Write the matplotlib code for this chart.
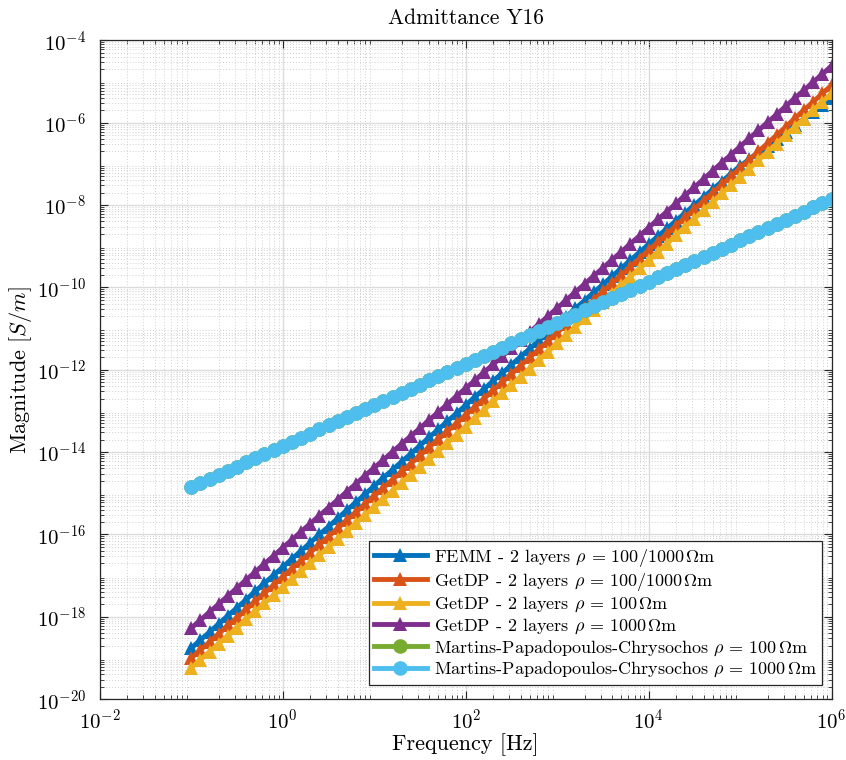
import matplotlib
matplotlib.use("Agg")
import matplotlib.pyplot as plt
import numpy as np

# frequency sweep: 10 points per decade, 0.1 Hz .. 1 MHz
freq = np.logspace(-1, 6, 71)

# |Y16| in log10(S/m)
femm_2layers = [
    -18.76, -18.56, -18.37, -18.17, -17.97, -17.78, -17.58, -17.38, -17.18, -16.99,
    -16.79, -16.59, -16.40, -16.20, -16.00, -15.81, -15.61, -15.41, -15.22, -15.02,
    -14.82, -14.62, -14.43, -14.23, -14.04, -13.84, -13.64, -13.45, -13.25, -13.06,
    -12.86, -12.66, -12.47, -12.27, -12.08, -11.88, -11.68, -11.49, -11.29, -11.10,
    -10.90, -10.71, -10.51, -10.32, -10.12, -9.93, -9.73, -9.54, -9.34, -9.15,
    -8.95, -8.76, -8.57, -8.38, -8.19, -8.00, -7.81, -7.62, -7.43, -7.24,
    -7.05, -6.89, -6.72, -6.56, -6.39, -6.23, -6.06, -5.90, -5.73, -5.57, -5.40,
]
getdp_2layers = [
    -19.00, -18.80, -18.61, -18.41, -18.21, -18.02, -17.82, -17.62, -17.42, -17.23,
    -17.03, -16.83, -16.64, -16.44, -16.24, -16.05, -15.85, -15.65, -15.46, -15.26,
    -15.06, -14.86, -14.67, -14.47, -14.28, -14.08, -13.88, -13.69, -13.49, -13.30,
    -13.10, -12.90, -12.70, -12.50, -12.30, -12.10, -11.90, -11.70, -11.50, -11.30,
    -11.10, -10.90, -10.70, -10.50, -10.30, -10.10, -9.90, -9.70, -9.50, -9.30,
    -9.10, -8.90, -8.70, -8.50, -8.30, -8.10, -7.90, -7.70, -7.50, -7.30,
    -7.10, -6.90, -6.70, -6.50, -6.30, -6.10, -5.89, -5.69, -5.49, -5.29, -5.09,
]
getdp_100 = [
    -19.24, -19.04, -18.85, -18.65, -18.46, -18.26, -18.06, -17.87, -17.67, -17.48,
    -17.28, -17.09, -16.89, -16.70, -16.50, -16.31, -16.11, -15.92, -15.72, -15.53,
    -15.33, -15.14, -14.94, -14.75, -14.55, -14.36, -14.16, -13.97, -13.77, -13.58,
    -13.38, -13.18, -12.98, -12.77, -12.57, -12.37, -12.17, -11.97, -11.76, -11.56,
    -11.36, -11.16, -10.96, -10.75, -10.55, -10.35, -10.15, -9.95, -9.74, -9.54,
    -9.34, -9.14, -8.94, -8.73, -8.53, -8.33, -8.13, -7.93, -7.72, -7.52,
    -7.32, -7.12, -6.91, -6.71, -6.51, -6.31, -6.10, -5.90, -5.70, -5.49, -5.29,
]
getdp_1000 = [
    -18.27, -18.08, -17.88, -17.69, -17.49, -17.30, -17.10, -16.91, -16.71, -16.52,
    -16.32, -16.13, -15.93, -15.74, -15.54, -15.35, -15.16, -14.96, -14.77, -14.57,
    -14.38, -14.19, -13.99, -13.80, -13.61, -13.42, -13.22, -13.03, -12.84, -12.64,
    -12.45, -12.26, -12.06, -11.87, -11.67, -11.48, -11.28, -11.09, -10.89, -10.70,
    -10.50, -10.31, -10.11, -9.92, -9.72, -9.53, -9.33, -9.14, -8.94, -8.75,
    -8.55, -8.35, -8.16, -7.96, -7.76, -7.57, -7.37, -7.17, -6.97, -6.78,
    -6.58, -6.38, -6.19, -5.99, -5.80, -5.60, -5.40, -5.21, -5.01, -4.82, -4.62,
]
mpc_1000 = [
    -14.85, -14.75, -14.65, -14.55, -14.45, -14.35, -14.25, -14.15, -14.05, -13.95,
    -13.85, -13.75, -13.65, -13.55, -13.45, -13.35, -13.25, -13.15, -13.05, -12.95,
    -12.86, -12.76, -12.66, -12.56, -12.46, -12.36, -12.26, -12.16, -12.06, -11.96,
    -11.86, -11.76, -11.66, -11.56, -11.46, -11.36, -11.26, -11.16, -11.06, -10.96,
    -10.86, -10.76, -10.66, -10.56, -10.46, -10.36, -10.26, -10.16, -10.06, -9.96,
    -9.86, -9.76, -9.66, -9.56, -9.46, -9.36, -9.26, -9.16, -9.06, -8.96,
    -8.86, -8.76, -8.66, -8.56, -8.46, -8.36, -8.26, -8.16, -8.06, -7.96, -7.86,
]
# the 100 Ohm.m analytic curve lies under the 1000 Ohm.m one
mpc_100 = list(mpc_1000)

labels = [
    r"FEMM - 2 layers $\rho\,=\,100/1000\,\Omega\mathrm{m}$",
    r"GetDP - 2 layers $\rho\,=\,100/1000\,\Omega\mathrm{m}$",
    r"GetDP - 2 layers $\rho\,=\,100\,\Omega\mathrm{m}$",
    r"GetDP - 2 layers $\rho\,=\,1000\,\Omega\mathrm{m}$",
    r"Martins-Papadopoulos-Chrysochos $\rho\,=\,100\,\Omega\mathrm{m}$",
    r"Martins-Papadopoulos-Chrysochos $\rho\,=\,1000\,\Omega\mathrm{m}$",
]
series = [femm_2layers, getdp_2layers, getdp_100, getdp_1000, mpc_100, mpc_1000]
markers = ["^", "^", "^", "^", "o", "o"]
colors = ["#0072BD", "#D95319", "#EDB120", "#7E2F8E", "#77AC30", "#4DBEEE"]

plt.rcParams["font.family"] = "serif"
plt.rcParams["font.serif"] = ["cmr10"]
plt.rcParams["mathtext.fontset"] = "cm"
plt.rcParams["axes.formatter.use_mathtext"] = True

fig = plt.figure(figsize=(8.46, 7.6), dpi=100)
ax = fig.add_axes([0.118, 0.080, 0.865, 0.867])

for y, lab, m, c in zip(series, labels, markers, colors):
    ax.loglog(freq, 10.0 ** np.array(y), marker=m, color=c, lw=3.5, ms=10.5,
              markeredgewidth=0, label=lab)

ax.set_xlim(1e-2, 1e6)
ax.set_ylim(1e-20, 1e-4)
ax.set_xticks([1e-2, 1e0, 1e2, 1e4, 1e6])
ax.set_yticks([10.0 ** k for k in range(-20, -3, 2)])
ax.xaxis.set_minor_locator(matplotlib.ticker.LogLocator(base=10, subs=np.arange(2, 10), numticks=20))
ax.yaxis.set_minor_locator(matplotlib.ticker.LogLocator(base=10, subs=np.arange(2, 10), numticks=40))
ax.xaxis.set_minor_formatter(matplotlib.ticker.NullFormatter())
ax.yaxis.set_minor_formatter(matplotlib.ticker.NullFormatter())

ax.grid(True, which="major", color="#dcdcdc", lw=1.0, ls="-")
ax.grid(True, which="minor", color="#cfcfcf", lw=0.7, ls=(0, (1, 2)))
ax.set_axisbelow(True)
ax.tick_params(which="both", direction="in", top=True, right=True, labelsize=15, color="#262626")
ax.tick_params(which="major", length=6)
ax.tick_params(which="minor", length=3)
ax.tick_params(axis="x", which="major", pad=7)
ax.tick_params(axis="y", which="major", pad=10)
for sp in ax.spines.values():
    sp.set_color("#262626")
    sp.set_linewidth(0.9)

ax.set_title("Admittance Y16", fontsize=15.5, pad=12)
ax.set_xlabel("Frequency [Hz]", fontsize=16, labelpad=0)
ax.set_ylabel(r"Magnitude $[S/m]$", fontsize=16, labelpad=2)

leg = ax.legend(loc="lower right", bbox_to_anchor=(0.987, 0.022), borderaxespad=0,
                fontsize=13, handlelength=2.9, handletextpad=0.4, labelspacing=0.12,
                borderpad=0.3, fancybox=False, framealpha=1, edgecolor="#262626")
leg.get_frame().set_linewidth(0.9)

fig.savefig("out.png", dpi=100)
